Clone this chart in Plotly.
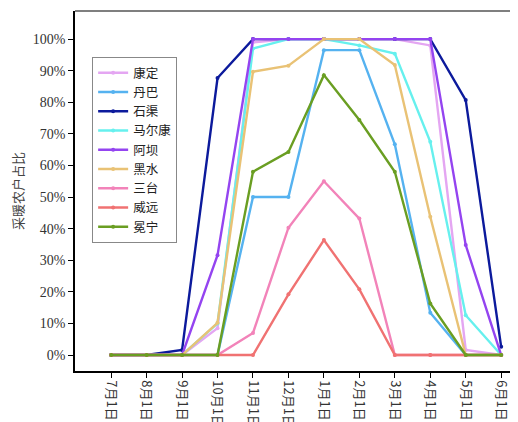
import plotly.graph_objects as go

months = ["7月1日", "8月1日", "9月1日", "10月1日", "11月1日", "12月1日",
          "1月1日", "2月1日", "3月1日", "4月1日", "5月1日", "6月1日"]

series_names = ["康定", "丹巴", "石渠", "马尔康", "阿坝", "黑水", "三台", "威远", "冕宁"]

kangding  = [0, 0, 0, 0.085, 0.99, 1.00, 1.00, 1.00, 1.00, 0.98, 0.016, 0]
danba     = [0, 0, 0, 0, 0.50, 0.50, 0.965, 0.965, 0.667, 0.134, 0, 0]
shiqu     = [0, 0, 0.016, 0.877, 1.00, 1.00, 1.00, 1.00, 1.00, 1.00, 0.807, 0.026]
maerkang  = [0, 0, 0, 0.10, 0.97, 1.00, 1.00, 0.98, 0.954, 0.675, 0.126, 0]
aba       = [0, 0, 0, 0.316, 1.00, 1.00, 1.00, 1.00, 1.00, 1.00, 0.348, 0]
heishui   = [0, 0, 0, 0.102, 0.897, 0.916, 1.00, 1.00, 0.918, 0.438, 0, 0]
santai    = [0, 0, 0, 0, 0.07, 0.403, 0.55, 0.432, 0, 0, 0, 0]
weiyuan   = [0, 0, 0, 0, 0, 0.192, 0.364, 0.208, 0, 0, 0, 0]
mianning  = [0, 0, 0, 0, 0.58, 0.643, 0.886, 0.744, 0.58, 0.163, 0, 0]

series_values = [kangding, danba, shiqu, maerkang, aba, heishui, santai, weiyuan, mianning]
colors = ["#e4a6f2", "#55b2f0", "#0c1a9c", "#66f0ee", "#9444f0",
          "#e9c275", "#f283b9", "#f07272", "#6a9e22"]

y_ticks = [i / 10 for i in range(11)]

fig = go.Figure()
for name, vals, c in zip(series_names, series_values, colors):
    fig.add_trace(go.Scatter(
        x=list(range(len(months))), y=vals, name=name, mode="lines+markers",
        line=dict(color=c, width=2.4),
        marker=dict(color=c, size=4, symbol="circle"),
    ))

fig.update_layout(
    width=518, height=422,
    margin=dict(l=67, r=0, t=3, b=59, autoexpand=False),
    plot_bgcolor="white", paper_bgcolor="white",
    showlegend=True,
    legend=dict(
        x=0.038, y=0.872, xanchor="left", yanchor="top",
        bgcolor="white", bordercolor="#888888", borderwidth=1,
        font=dict(family="Noto Sans CJK SC", size=12.5, color="#222222"),
        tracegroupgap=0, itemwidth=30,
    ),
)

fig.update_xaxes(
    range=[-1.02, 11.7], automargin=False,
    tickmode="array", tickvals=list(range(len(months))), ticktext=months,
    tickangle=90,
    ticks="outside", ticklen=5, tickwidth=1.2, tickcolor="black",
    showline=True, linecolor="black", linewidth=1.5,
    mirror=False, showgrid=False, zeroline=False,
    tickfont=dict(family="Noto Sans CJK SC", size=13, color="#333333"),
)

fig.update_yaxes(
    range=[-0.0506, 1.089], automargin=False,
    tickmode="array", tickvals=y_ticks,
    tickformat=".0%",
    ticks="outside", ticklen=5, tickwidth=1.2, tickcolor="black",
    showline=True, linecolor="black", linewidth=1.5,
    showgrid=False, zeroline=False,
    tickfont=dict(family="Liberation Serif", size=14, color="#333333"),
    title=dict(text="采暖农户占比", standoff=9,
               font=dict(family="Noto Sans CJK SC", size=13, color="#444444")),
)

# top border line
fig.add_shape(type="line", xref="paper", yref="paper", x0=0, x1=1, y0=1, y1=1,
              line=dict(color="#555555", width=1.5))

fig.write_html("out.html")
